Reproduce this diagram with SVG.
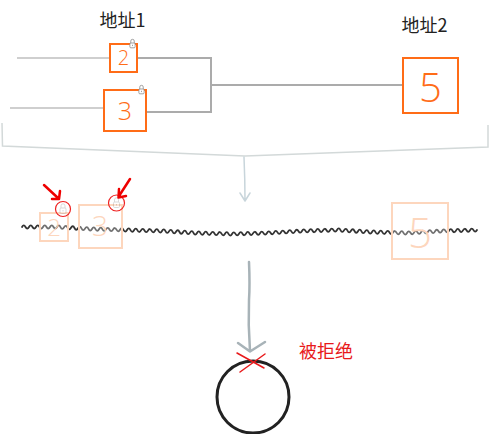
<svg xmlns="http://www.w3.org/2000/svg" xmlns:xlink="http://www.w3.org/1999/xlink" width="489" height="434" viewBox="0 0 489 434">
<style>
.lbl{font-family:"Noto Sans CJK SC","Noto Sans",sans-serif;font-size:18px;fill:#222}
.red{fill:#e8191b}
.box{fill:none;stroke:#ff6c17;stroke-width:2}
.num{font-family:"Open Sans","Liberation Sans",sans-serif;font-weight:300;fill:#ff6c17;text-anchor:middle}
.fbox{fill:#fff;fill-opacity:0.3;stroke:#fdd6bd;stroke-width:2}
.fnum{font-family:"Open Sans","Liberation Sans",sans-serif;font-weight:300;fill:#fdd6bd;text-anchor:middle}
.wire-l{fill:none;stroke:#cfcfcf;stroke-width:2}
.wire-r{fill:none;stroke:#ababab;stroke-width:2}
.frame{fill:none;stroke:#d3d9d9;stroke-width:1.5}
.rarr{fill:none;stroke:#e00;stroke-width:2.5;stroke-linecap:round;stroke-linejoin:round}
</style>
<defs>
<symbol id="lock" viewBox="0 0 8 12">
<path d="M2,6 V3.8 a2,2 0 0 1 4,0 V6" fill="none" stroke="#8a8a8a" stroke-width="0.9"/>
<rect x="1" y="6" width="6" height="5.5" rx="1.2" fill="#fff" stroke="#8a8a8a" stroke-width="0.9"/>
<path d="M4,8 v1.5" stroke="#8a8a8a" stroke-width="0.9"/>
</symbol>
</defs>

<g id="frame">
<path class="frame" d="M2,123 L2.5,146 L245,156 L488,147 L488,125"/>
</g>

<g id="connectors">
<path class="wire-l" d="M17,58 H110"/>
<path class="wire-l" d="M10,108 H104"/>
<path class="wire-r" d="M137,58 H211 V112 H146"/>
<path class="wire-r" d="M211,85 H403"/>
<path d="M244,157 Q245,180 245,201 M240,193 L245,201 L250,193" fill="none" stroke="#c8d5db" stroke-width="1.5" stroke-linecap="round" stroke-linejoin="round"/>
<path d="M249,262 Q250,285 249,300 Q248,325 250,351 M238,343 L250,351.5 L265,342" fill="none" stroke="#a8b3b8" stroke-width="2.5" stroke-linecap="round" stroke-linejoin="round"/>
</g>

<g id="label-addr1"><text class="lbl" x="122.5" y="27" text-anchor="middle">地址1</text></g>
<g id="label-addr2"><text class="lbl" x="424.5" y="32" text-anchor="middle">地址2</text></g>

<g id="node-2">
<rect class="box" x="110" y="44" width="27" height="28"/>
<text class="num" x="123.5" y="65" font-size="20">2</text>
<use xlink:href="#lock" x="129" y="37" width="7" height="12"/>
</g>
<g id="node-3">
<rect class="box" x="104" y="90" width="42" height="41"/>
<text class="num" x="125" y="120" font-size="25">3</text>
<use xlink:href="#lock" x="138" y="83" width="7" height="12"/>
</g>
<g id="node-5">
<rect class="box" x="403" y="58" width="55" height="55"/>
<text class="num" x="430.5" y="102" font-size="40">5</text>
</g>

<g id="wave">
<path d="M22,227 q1.75,-3.2 3.5,0 t3.5,0 t3.5,0 t3.5,0 t3.5,0 t3.5,0 t3.5,0 t3.5,0 t3.5,0 t3.5,0
t3.5,0.2 t3.5,0.2 t3.5,0.2 t3.5,0.2 t3.5,0.2 t3.5,0.2 t3.5,0.2 t3.5,0.2 t3.5,0.2 t3.5,0.2
t3.5,0.1 t3.5,0.1 t3.5,0.1 t3.5,0.1 t3.5,0.1 t3.5,0.1 t3.5,0.1 t3.5,0.1 t3.5,0.1 t3.5,0.1
t3.5,0.1 t3.5,0.1 t3.5,0.1 t3.5,0.1 t3.5,0.1 t3.5,0.1 t3.5,0.1 t3.5,0.1 t3.5,0.1 t3.5,0.1
t3.5,0.2 t3.5,0.2 t3.5,0.2 t3.5,0.2 t3.5,0.2 t3.5,0.2 t3.5,0.2 t3.5,0.2 t3.5,0.2 t3.5,0.2
t3.5,0.1 t3.5,0.1 t3.5,0.1 t3.5,0.1 t3.5,0.1 t3.5,0.1 t3.5,0.1 t3.5,0.1 t3.5,0.1 t3.5,0.1
t3.5,-0.1 t3.5,-0.1 t3.5,-0.1 t3.5,-0.1 t3.5,-0.1 t3.5,-0.1 t3.5,-0.1 t3.5,-0.1 t3.5,-0.1 t3.5,-0.1
t3.5,-0.2 t3.5,-0.2 t3.5,-0.2 t3.5,-0.2 t3.5,-0.2 t3.5,-0.2 t3.5,-0.2 t3.5,-0.2 t3.5,-0.2 t3.5,-0.2
t3.5,-0.1 t3.5,-0.1 t3.5,-0.1 t3.5,-0.1 t3.5,-0.1 t3.5,-0.1 t3.5,-0.1 t3.5,-0.1 t3.5,-0.1 t3.5,-0.1
t3.5,0.2 t3.5,0.2 t3.5,0.2 t3.5,0.2 t3.5,0.2 t3.5,0.2 t3.5,0.2 t3.5,0.2 t3.5,0.2 t3.5,0.2
t3.5,0.1 t3.5,0.1 t3.5,0.1 t3.5,0.1 t3.5,0.1 t3.5,0.1 t3.5,0.1 t3.5,0.1 t3.5,0.1 t3.5,0.1
t3.5,-0.2 t3.5,-0.2 t3.5,-0.2 t3.5,-0.2 t3.5,-0.2 t3.5,-0.2 t3.5,-0.2 t3.5,-0.2 t3.5,-0.2 t3.5,-0.2
t3.5,-0.1 t3.5,-0.1 t3.5,-0.1 t3.5,-0.1 t3.5,-0.1 t3.5,-0.1 t3.5,-0.1 t3.5,-0.1 t3.5,-0.1 t3.5,-0.1" fill="none" stroke="#333" stroke-width="1.8" stroke-linecap="round" stroke-linejoin="round"/>
</g>

<g id="faded-2">
<rect class="fbox" x="40" y="213" width="28" height="28"/>
<text class="fnum" x="54" y="236" font-size="24">2</text>
</g>
<g id="faded-3">
<rect class="fbox" x="79" y="205" width="43" height="43"/>
<text class="fnum" x="100" y="236" font-size="28">3</text>
</g>
<g id="faded-5">
<rect class="fbox" x="392" y="203" width="56" height="56"/>
<text class="fnum" x="420" y="248" font-size="42">5</text>
</g>

<g id="mark-1">
<use xlink:href="#lock" x="59" y="202" width="8" height="12" opacity="0.35"/>
<circle cx="63" cy="209" r="7.5" fill="none" stroke="#e22" stroke-width="1.2"/>
<path class="rarr" d="M44,185 L58,198 M52,199 L59,199 L60,191"/>
</g>
<g id="mark-2">
<use xlink:href="#lock" x="112.5" y="196" width="8" height="12" opacity="0.35"/>
<circle cx="116.5" cy="203" r="8" fill="none" stroke="#e22" stroke-width="1.2"/>
<path class="rarr" d="M130,179 L119,196 M119,189 L118.5,197.5 L126,196"/>
</g>

<g id="endpoint">
<circle cx="253" cy="397" r="36" fill="none" stroke="#222" stroke-width="3"/>
<path d="M237,353 L264,368 M265,354 L240,372" fill="none" stroke="#e8191b" stroke-width="1.5" stroke-linecap="round"/>
<text class="lbl red" x="299" y="358">被拒绝</text>
</g>
</svg>
